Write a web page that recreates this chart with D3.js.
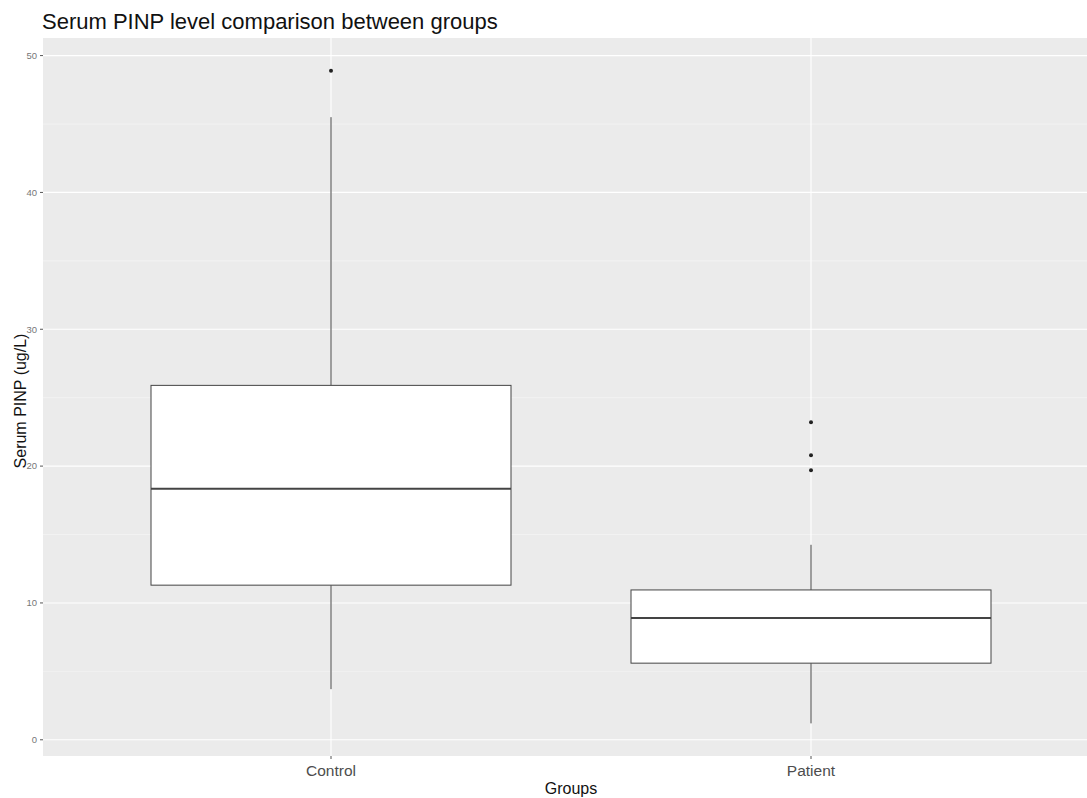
<!DOCTYPE html>
<html>
<head>
<meta charset="utf-8">
<script src="https://cdn.jsdelivr.net/npm/d3@7"></script>
<style>
  html, body { margin: 0; padding: 0; background: #ffffff; }
  svg { display: block; font-family: "Liberation Sans", Arial, sans-serif; }
</style>
</head>
<body>
<svg id="chart" width="1087" height="798"></svg>
<script>
// ---- data ----
const groups = ["Control", "Patient"];
const whiskerLow = [3.7, 1.2];
const q1 = [11.3, 5.6];
const median = [18.35, 8.9];
const q3 = [25.9, 10.95];
const whiskerHigh = [45.5, 14.25];
const outliers = [[48.9], [23.2, 20.8, 19.7]];
const yTicks = [0, 10, 20, 30, 40, 50];
const yMinor = [5, 15, 25, 35, 45];

const title = "Serum PINP level comparison between groups";
const xTitle = "Groups";
const yTitle = "Serum PINP (ug/L)";

// ---- layout ----
const svg = d3.select("#chart");
const panel = { left: 43, top: 38, width: 1056, height: 718 };

const allVals = whiskerLow.concat(whiskerHigh, outliers.flat());
const dMin = d3.min(allVals), dMax = d3.max(allVals);
const pad = (dMax - dMin) * 0.05;
const y = d3.scaleLinear().domain([dMin - pad, dMax + pad]).range([panel.top + panel.height, panel.top]);

// discrete x with ggplot-like expansion (0.6 units each side)
const unit = panel.width / (groups.length - 1 + 1.2);
const x = d3.scalePoint().domain(groups)
  .range([panel.left + 0.6 * unit, panel.left + panel.width - 0.6 * unit]);
const boxW = 0.75 * unit;

// panel background
svg.append("rect").attr("x", panel.left).attr("y", panel.top)
  .attr("width", panel.width).attr("height", panel.height).attr("fill", "#ebebeb");

const g = svg.append("g");
// minor grid
g.selectAll(".minor").data(yMinor).join("line")
  .attr("x1", panel.left).attr("x2", panel.left + panel.width)
  .attr("y1", d => y(d)).attr("y2", d => y(d))
  .attr("stroke", "#f7f7f7").attr("stroke-width", 0.6);
// major grid
g.selectAll(".major").data(yTicks).join("line")
  .attr("x1", panel.left).attr("x2", panel.left + panel.width)
  .attr("y1", d => y(d)).attr("y2", d => y(d))
  .attr("stroke", "#ffffff").attr("stroke-width", 1.1);
g.selectAll(".vmajor").data(groups).join("line")
  .attr("x1", d => x(d)).attr("x2", d => x(d))
  .attr("y1", panel.top).attr("y2", panel.top + panel.height)
  .attr("stroke", "#ffffff").attr("stroke-width", 1.1);

// boxes
const boxes = svg.append("g");
groups.forEach((grp, i) => {
  const cx = x(grp);
  const bg = boxes.append("g");
  bg.append("line").attr("x1", cx).attr("x2", cx)
    .attr("y1", y(q3[i])).attr("y2", y(whiskerHigh[i]))
    .attr("stroke", "#444444").attr("stroke-width", 1);
  bg.append("line").attr("x1", cx).attr("x2", cx)
    .attr("y1", y(q1[i])).attr("y2", y(whiskerLow[i]))
    .attr("stroke", "#444444").attr("stroke-width", 1);
  bg.append("rect").attr("x", cx - boxW / 2).attr("y", y(q3[i]))
    .attr("width", boxW).attr("height", y(q1[i]) - y(q3[i]))
    .attr("fill", "#ffffff").attr("stroke", "#444444").attr("stroke-width", 1);
  bg.append("line").attr("x1", cx - boxW / 2).attr("x2", cx + boxW / 2)
    .attr("y1", y(median[i])).attr("y2", y(median[i]))
    .attr("stroke", "#444444").attr("stroke-width", 2);
  bg.selectAll("circle").data(outliers[i]).join("circle")
    .attr("cx", cx).attr("cy", d => y(d)).attr("r", 2)
    .attr("fill", "#222222");
});

// y axis
yTicks.forEach(t => {
  svg.append("line").attr("x1", panel.left - 3).attr("x2", panel.left)
    .attr("y1", y(t)).attr("y2", y(t)).attr("stroke", "#555555").attr("stroke-width", 1);
});
svg.selectAll(".ylab").data(yTicks).join("text")
  .attr("x", panel.left - 6).attr("y", d => y(d)).attr("dy", "0.35em")
  .attr("text-anchor", "end").attr("font-size", 9.5).attr("fill", "#777777")
  .text(d => d);

// x axis
groups.forEach(grp => {
  svg.append("line").attr("x1", x(grp)).attr("x2", x(grp))
    .attr("y1", panel.top + panel.height).attr("y2", panel.top + panel.height + 3)
    .attr("stroke", "#555555").attr("stroke-width", 1);
});
svg.selectAll(".xlab").data(groups).join("text")
  .attr("x", d => x(d)).attr("y", 776)
  .attr("text-anchor", "middle").attr("font-size", 15.5).attr("fill", "#4d4d4d")
  .text(d => d);

// titles
svg.append("text").attr("x", x(groups[0]) + (x(groups[1]) - x(groups[0])) / 2).attr("y", 794)
  .attr("text-anchor", "middle").attr("font-size", 16).attr("fill", "#111")
  .text(xTitle);
svg.append("text").attr("transform", `translate(26,${panel.top + panel.height / 2 + 4}) rotate(-90)`)
  .attr("text-anchor", "middle").attr("font-size", 16).attr("fill", "#111")
  .text(yTitle);
svg.append("text").attr("x", panel.left - 1).attr("y", 29)
  .attr("font-size", 22).attr("fill", "#111")
  .text(title);
</script>
</body>
</html>
